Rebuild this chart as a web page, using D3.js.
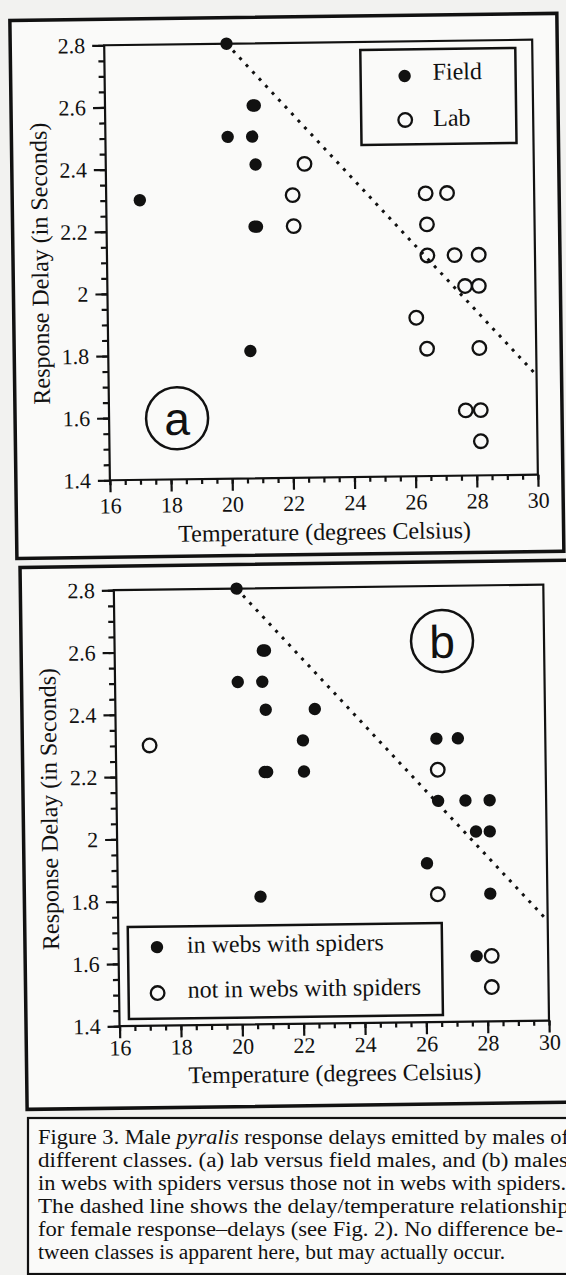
<!DOCTYPE html>
<html lang="en">
<head>
<meta charset="UTF-8">
<title>Figure 3. Male pyralis response delays</title>
<script src="https://d3js.org/d3.v7.min.js"></script>
<style>
    body { margin: 0; background: #f2f2f0; }
    svg { display: block; }
    .axis path, .axis line { stroke: #111; stroke-width: 2.2; }
    .axis text { font-family: "Liberation Serif", "Times New Roman", serif; font-size: 22px; fill: #111; }
    .title { font-family: "Liberation Serif", "Times New Roman", serif; font-size: 24px; fill: #111; }
    .legend text { font-family: "Liberation Serif", "Times New Roman", serif; font-size: 24px; fill: #111; }
    .letter { font-family: "Liberation Sans", Arial, sans-serif; font-size: 46px; fill: #111; }
    .caption { font-family: "Liberation Serif", "Times New Roman", serif; font-size: 20px; fill: #111; }
</style>
</head>
<body>
<div id="figure"></div>
<script>
    // Data (temperature in deg C, delay in seconds)
    const temperature = [20.0, 20.83, 20.9, 20.0, 20.8, 20.9, 17.1, 20.84, 20.92, 20.65,
                         22.5, 22.1, 22.12, 26.45, 27.15, 26.48, 26.48, 27.37, 28.16,
                         27.7, 28.15, 26.09, 26.43, 28.14, 27.67, 28.16, 28.15];
    const delay = [2.8, 2.6, 2.6, 2.5, 2.5, 2.41, 2.3, 2.21, 2.21, 1.81,
                   2.41, 2.31, 2.21, 2.31, 2.31, 2.21, 2.11, 2.11, 2.11,
                   2.01, 2.01, 1.91, 1.81, 1.81, 1.61, 1.61, 1.51];
    const origin = ["Field", "Field", "Field", "Field", "Field", "Field", "Field", "Field", "Field", "Field",
                    "Lab", "Lab", "Lab", "Lab", "Lab", "Lab", "Lab", "Lab", "Lab",
                    "Lab", "Lab", "Lab", "Lab", "Lab", "Lab", "Lab", "Lab"];
    const withSpiders = [true, true, true, true, true, true, false, true, true, true,
                         true, true, true, true, true, false, true, true, true,
                         true, true, true, false, true, true, false, false];

    // female delay/temperature relationship (dotted line)
    const femaleTemp = [20.0, 30];
    const femaleDelay = [2.8, 1.72];

    const xTicks = [16, 18, 20, 22, 24, 26, 28, 30];
    const yTicks = [1.4, 1.6, 1.8, 2, 2.2, 2.4, 2.6, 2.8];
    const xMinor = d3.range(32, 61).map(i => i / 2);
    const yMinor = d3.range(28, 57).map(i => i / 20);

    const xTitle = "Temperature (degrees Celsius)";
    const yTitle = "Response Delay (in Seconds)";

    const captionLines = [
        ["Figure 3. Male ", "pyralis", " response delays emitted by  males of"],
        ["different classes.  (a) lab versus field males, and (b) males"],
        ["in webs with spiders versus those not in webs with spiders."],
        ["The dashed line shows the delay/temperature relationship"],
        ["for female response\u2013delays (see Fig. 2).  No difference be-"],
        ["tween classes is apparent here, but may actually occur."]
    ];
    const captionWidths = [531, 530, 528, 531, 525, 467];

    const points = temperature.map((t, i) => ({
        t: t, d: delay[i], origin: origin[i], spiders: withSpiders[i]
    }));

    const ink = "#111";
    const paper = "#fafaf9";

    const svg = d3.select("#figure").append("svg")
        .attr("width", 566)
        .attr("height", 1275);

    // the scanned page is tilted a little
    const page = svg.append("g").attr("transform", "rotate(-0.75 283 640)");

    function drawPanel(cfg) {
        const g = page.append("g");

        g.append("rect")
            .attr("x", cfg.frame[0]).attr("y", cfg.frame[1])
            .attr("width", cfg.frame[2]).attr("height", cfg.frame[3])
            .attr("fill", paper).attr("stroke", ink).attr("stroke-width", 3.5);

        const x = d3.scaleLinear().domain([16, 30]).range([cfg.left, cfg.right]);
        const y = d3.scaleLinear().domain([1.4, 2.8]).range([cfg.bottom, cfg.top]);

        // plot box
        g.append("rect")
            .attr("x", cfg.left).attr("y", cfg.top)
            .attr("width", cfg.right - cfg.left).attr("height", cfg.bottom - cfg.top)
            .attr("fill", "none").attr("stroke", ink).attr("stroke-width", 2.2);

        // minor ticks
        g.append("g").attr("class", "axis")
            .attr("transform", `translate(0,${cfg.bottom})`)
            .call(d3.axisBottom(x).tickValues(xMinor).tickSize(5).tickSizeOuter(0).tickFormat(""));
        g.append("g").attr("class", "axis")
            .attr("transform", `translate(${cfg.left},0)`)
            .call(d3.axisLeft(y).tickValues(yMinor).tickSize(6).tickSizeOuter(0).tickFormat(""));

        // major ticks
        g.append("g").attr("class", "axis")
            .attr("transform", `translate(0,${cfg.bottom})`)
            .call(d3.axisBottom(x).tickValues(xTicks).tickSize(12).tickSizeOuter(0)
                .tickPadding(cfg.xPad).tickFormat(d3.format("d")));
        g.append("g").attr("class", "axis")
            .attr("transform", `translate(${cfg.left},0)`)
            .call(d3.axisLeft(y).tickValues(yTicks).tickSize(12).tickSizeOuter(0)
                .tickPadding(7).tickFormat(d => String(+d.toFixed(1))));

        g.selectAll(".axis .domain").remove();

        // axis titles
        g.append("text").attr("class", "title")
            .attr("x", (cfg.left + cfg.right) / 2)
            .attr("y", cfg.bottom + cfg.xTitleGap)
            .attr("text-anchor", "middle")
            .text(xTitle);
        g.append("text").attr("class", "title")
            .attr("transform", `translate(${cfg.yTitleX},${(cfg.top + cfg.bottom) / 2}) rotate(-90)`)
            .attr("text-anchor", "middle")
            .text(yTitle);

        // dotted female line
        const line = d3.line().x(d => x(d[0])).y(d => y(d[1]));
        g.append("path")
            .datum(femaleTemp.map((t, i) => [t, femaleDelay[i]]))
            .attr("d", line)
            .attr("fill", "none")
            .attr("stroke", ink)
            .attr("stroke-width", 3)
            .attr("stroke-dasharray", "3 6.5");

        // points
        g.selectAll(".pt")
            .data(points)
            .enter().append("circle")
            .attr("class", "pt")
            .attr("cx", d => x(d.t))
            .attr("cy", d => y(d.d))
            .attr("r", d => cfg.filled(d) ? 6.2 : 6.8)
            .attr("fill", d => cfg.filled(d) ? ink : "none")
            .attr("stroke", ink)
            .attr("stroke-width", d => cfg.filled(d) ? 0 : 2.3);

        // legend
        const lg = g.append("g").attr("class", "legend");
        const b = cfg.legend.box;
        lg.append("rect")
            .attr("x", b[0]).attr("y", b[1]).attr("width", b[2]).attr("height", b[3])
            .attr("fill", paper).attr("stroke", ink).attr("stroke-width", 2.5);
        cfg.legend.items.forEach((item, i) => {
            const cy = cfg.legend.markerY[i];
            lg.append("circle")
                .attr("cx", cfg.legend.markerX).attr("cy", cy)
                .attr("r", item.filled ? 6.2 : 6.8)
                .attr("fill", item.filled ? ink : "none")
                .attr("stroke", ink)
                .attr("stroke-width", item.filled ? 0 : 2.3);
            lg.append("text")
                .attr("x", cfg.legend.textX)
                .attr("y", cfg.legend.textY[i])
                .text(item.label);
        });

        // circled panel letter
        g.append("circle")
            .attr("cx", cfg.letter.cx).attr("cy", cfg.letter.cy).attr("r", 31)
            .attr("fill", "none").attr("stroke", ink).attr("stroke-width", 2.5);
        g.append("text").attr("class", "letter")
            .attr("x", cfg.letter.cx).attr("y", cfg.letter.baseline)
            .attr("text-anchor", "middle")
            .text(cfg.letter.text);
    }

    // (a) lab versus field
    drawPanel({
        frame: [18, 17, 547, 538],
        left: 112, right: 540, top: 43, bottom: 478,
        xPad: 5.4, xTitleGap: 62.5, yTitleX: 53,
        filled: d => d.origin === "Field",
        legend: {
            box: [368, 51, 155, 95],
            markerX: 412, markerY: [77.6, 121.6],
            textX: 440, textY: [81.7, 128],
            items: [{ label: "Field", filled: true }, { label: "Lab", filled: false }]
        },
        letter: { text: "a", cx: 180, cy: 417, baseline: 433.5 }
    });

    // (b) in webs with spiders versus not
    drawPanel({
        frame: [21, 564, 551, 542],
        left: 114.5, right: 544, top: 588, bottom: 1024,
        xPad: 1.5, xTitleGap: 58, yTitleX: 55,
        filled: d => d.spiders,
        legend: {
            box: [124, 925, 314, 92],
            markerX: 153, markerY: [945.4, 991.4],
            textX: 183, textY: [951.5, 996.5],
            items: [{ label: "in webs with spiders", filled: true },
                    { label: "not in webs with spiders", filled: false }]
        },
        letter: { text: "b", cx: 442, cy: 643, baseline: 660 }
    });

    // caption (kept level so its lines do not collide)
    const cap = svg.append("g");
    cap.append("rect")
        .attr("x", 28).attr("y", 1118).attr("width", 560).attr("height", 156)
        .attr("fill", paper).attr("stroke", ink).attr("stroke-width", 2.2);

    captionLines.forEach((parts, i) => {
        const t = cap.append("text")
            .attr("class", "caption")
            .attr("x", 38)
            .attr("y", 1144 + i * 23)
            .attr("textLength", captionWidths[i])
            .attr("lengthAdjust", "spacingAndGlyphs");
        parts.forEach(p => {
            t.append("tspan")
                .style("font-style", p === "pyralis" ? "italic" : "normal")
                .text(p);
        });
    });
</script>
</body>
</html>
